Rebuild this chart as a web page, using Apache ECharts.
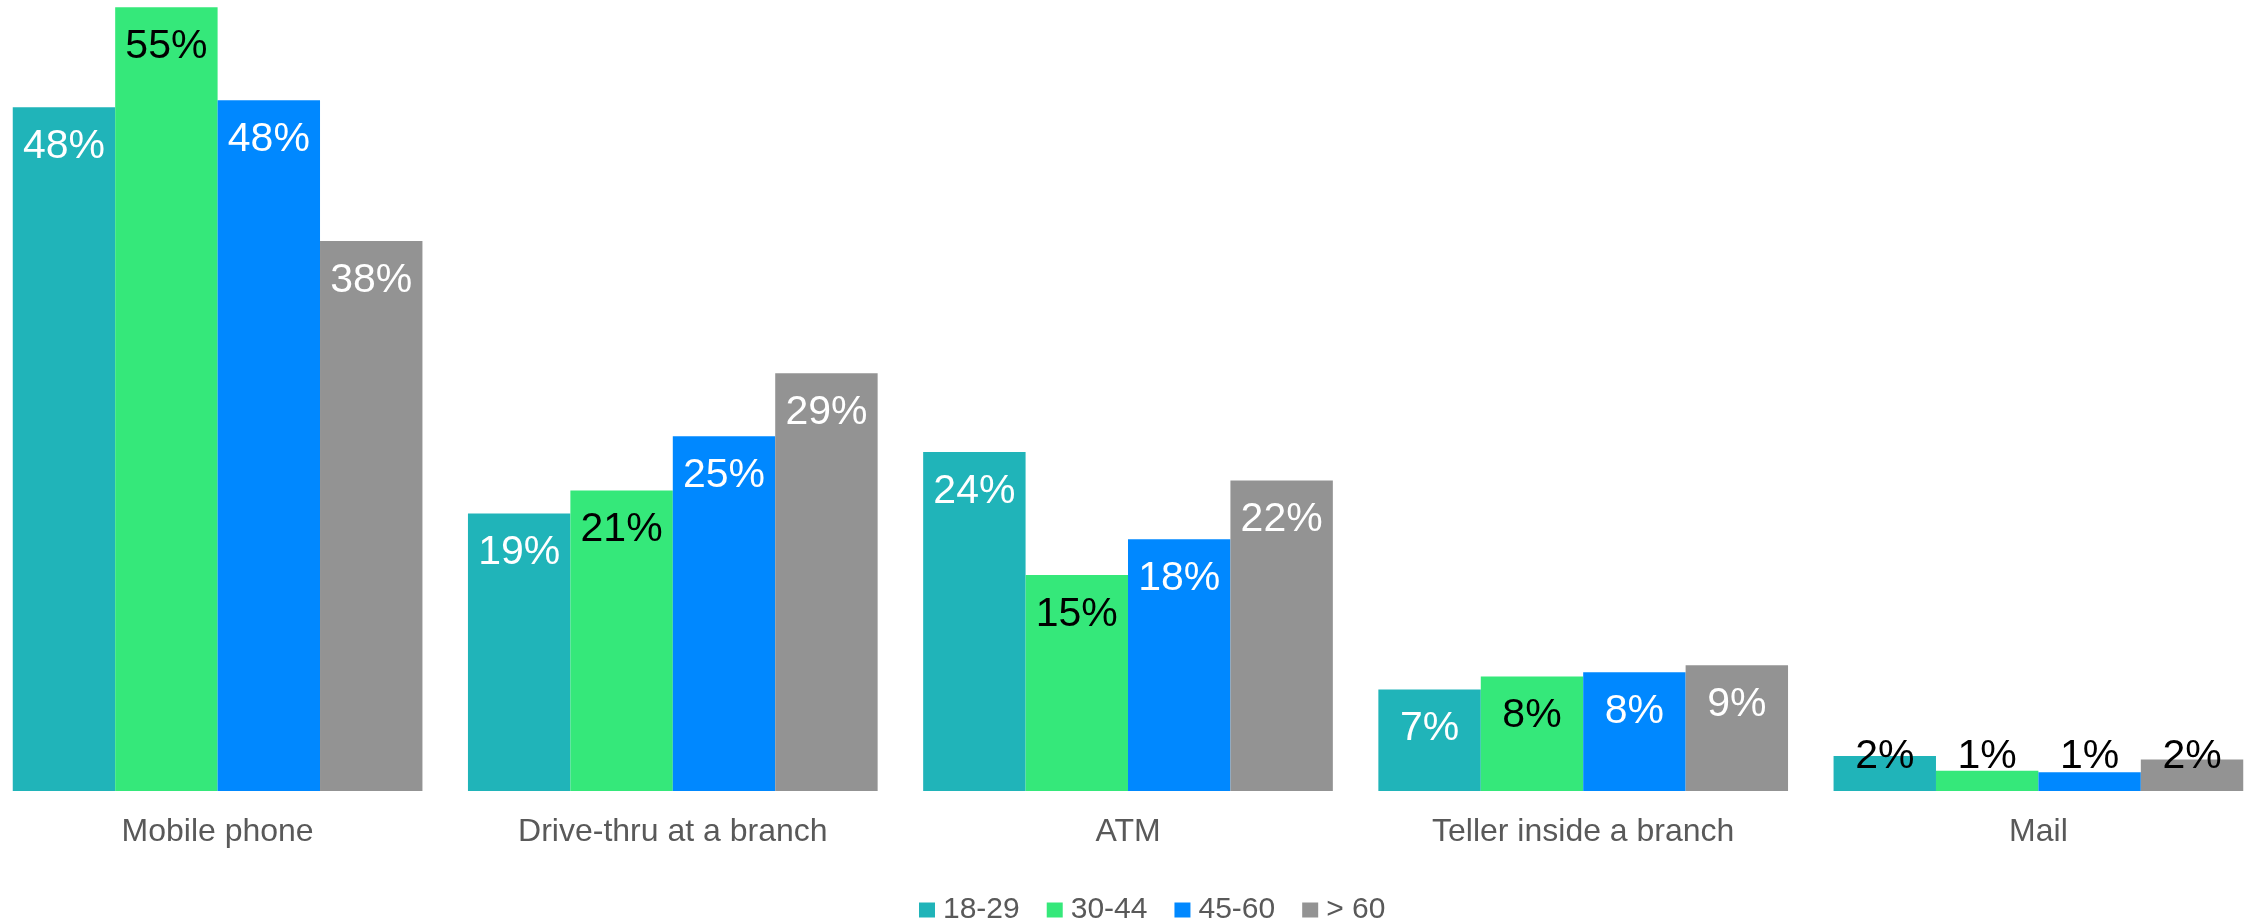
<!DOCTYPE html>
<html>
<head>
<meta charset="utf-8">
<script src="https://cdn.jsdelivr.net/npm/echarts@6/dist/echarts.min.js"></script>
<style>
html,body{margin:0;padding:0;background:#fff;}
#chart{width:2259px;height:920px;}
</style>
</head>
<body>
<div id="chart"></div>
<script>
const categories = ['Mobile phone', 'Drive-thru at a branch', 'ATM', 'Teller inside a branch', 'Mail'];
const seriesNames = ['18-29', '30-44', '45-60', '> 60'];
const age18_29 = [47.8, 19.4, 23.7, 7.1, 2.45];
const age30_44 = [54.8, 21.0, 15.1, 8.0, 1.42];
const age45_60 = [48.3, 24.8, 17.6, 8.3, 1.31];
const age60plus = [38.45, 29.2, 21.7, 8.8, 2.2];
const seriesValues = [age18_29, age30_44, age45_60, age60plus];
const colors = ['#20B4B9', '#35E87A', '#0088FF', '#939393'];
const labelColors = ['#FFFFFF', '#000000', '#FFFFFF', '#FFFFFF'];

const chart = echarts.init(document.getElementById('chart'));

const series = seriesNames.map((name, si) => ({
  name: name,
  type: 'bar',
  barGap: '0%',
  barCategoryGap: '10%',
  itemStyle: { color: colors[si] },
  data: seriesValues[si].map((v, ci) => {
    const small = v < 4;
    return {
      value: v,
      label: small ? {
        position: 'insideBottom',
        distance: 14,
        color: '#000000'
      } : {}
    };
  }),
  label: {
    show: true,
    position: 'insideTop',
    distance: 19,
    color: labelColors[si],
    fontFamily: 'Liberation Sans, Arial, sans-serif',
    fontSize: 41,
    formatter: p => Math.round(p.value) + '%'
  }
}));

chart.setOption({
  animation: false,
  backgroundColor: '#ffffff',
  grid: { left: -10, right: -7, top: 0, bottom: 129, containLabel: false, outerBoundsMode: 'none' },
  legend: {
    data: seriesNames,
    left: 914,
    top: 890,
    icon: 'rect',
    itemWidth: 16,
    itemHeight: 15,
    itemGap: 27,
    textStyle: {
      color: '#595959',
      fontSize: 30,
      fontFamily: 'Liberation Sans, Arial, sans-serif',
      padding: [0, 0, 0, 3]
    }
  },
  xAxis: {
    type: 'category',
    data: categories,
    axisLine: { show: false },
    axisTick: { show: false },
    axisLabel: {
      color: '#595959',
      fontSize: 32,
      fontFamily: 'Liberation Sans, Arial, sans-serif',
      margin: 25
    }
  },
  yAxis: {
    type: 'value',
    min: 0,
    max: 55.3,
    show: false,
    splitLine: { show: false }
  },
  series: series
});
</script>
</body>
</html>
